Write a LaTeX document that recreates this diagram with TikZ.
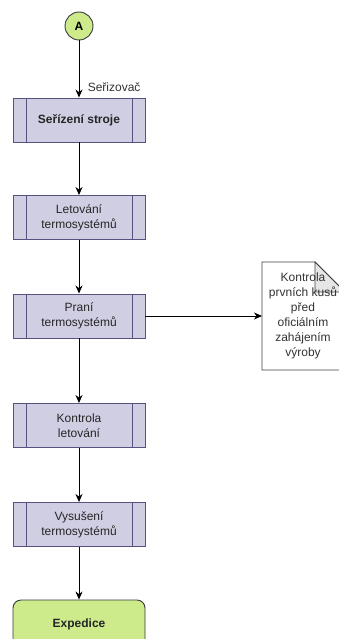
\documentclass[tikz,border=0pt]{standalone}
\usepackage{fontspec}
\setmainfont{Liberation Sans}
\usetikzlibrary{arrows.meta}
\definecolor{procfill}{HTML}{D0CEE2}
\definecolor{procline}{HTML}{56517E}
\definecolor{termfill}{HTML}{CDEB8B}
\definecolor{termline}{HTML}{36393D}
\definecolor{foldfill}{HTML}{E6E6E6}
\tikzset{
  proc/.style={draw=procline, fill=procfill, line width=0.9pt, minimum width=132pt, minimum height=44pt,
    inner sep=0pt, align=center, font=\fontsize{12}{15}\selectfont, text=black!85},
  procside/.style={draw=procline, line width=0.9pt},
  term/.style={draw=termline, fill=termfill, line width=0.9pt, rounded corners=8pt,
    minimum width=132pt, minimum height=48pt, inner sep=0pt,
    font=\fontsize{12}{15}\selectfont\bfseries, text=black!85},
  conn/.style={circle, draw=termline, fill=termfill, line width=0.9pt, minimum size=28pt,
    inner sep=0pt, font=\fontsize{12}{15}\selectfont\bfseries},
  flow/.style={draw=black, line width=0.9pt, -{Stealth[length=8pt,width=7pt,inset=2.5pt]}}
}
\begin{document}
\begin{tikzpicture}[x=1pt,y=-1pt]
\useasboundingbox (0,0) rectangle (339,639);
\clip (0,0) rectangle (339,639);
% start connector
\node[conn] (a) at (79,26) {A};
% process chain
\node[proc, font=\fontsize{12}{15}\selectfont\bfseries] (s1) at (79,120) {Seřízení stroje};
\node[proc] (s2) at (79,217.5) {Letování\\termosystémů};
\node[proc] (s3) at (79,316) {Praní\\termosystémů};
\node[proc] (s4) at (79,425.5) {Kontrola\\letování};
\node[proc] (s5) at (79,524.5) {Vysušení\\termosystémů};
\node[term] (s6) at (79,624) {Expedice};
% subprocess side bars
\foreach \p in {s1,s2,s3,s4,s5}{
  \draw[procside] ([xshift=14pt]\p.north west) -- ([xshift=14pt]\p.south west);
  \draw[procside] ([xshift=-13pt]\p.north east) -- ([xshift=-13pt]\p.south east);
}
% note with folded corner
\coordinate (n) at (262,316);
\filldraw[draw=black!75, fill=white, line width=0.8pt]
  (262,262) -- (315,262) -- (345,292) -- (345,370) -- (262,370) -- cycle;
\filldraw[draw=black!75, fill=foldfill, line width=0.8pt]
  (315,262) -- (315,292) -- (345,292) -- cycle;
\node[align=center, font=\fontsize{12}{15}\selectfont, text=black!80] (note) at (303,316)
  {Kontrola\\prvních kusů\\před\\oficiálním\\zahájením\\výroby};
% connectors
\draw[flow] (a) -- (s1) node[pos=0.82, right=5pt, font=\fontsize{12}{14}\selectfont, text=black!80] (lab) {Seřizovač};
\draw[flow] (s1) -- (s2);
\draw[flow] (s2) -- (s3);
\draw[flow] (s3) -- (s4);
\draw[flow] (s4) -- (s5);
\draw[flow] (s5) -- (s6);
\draw[flow] (s3.east) -- (n);
\end{tikzpicture}
\end{document}
